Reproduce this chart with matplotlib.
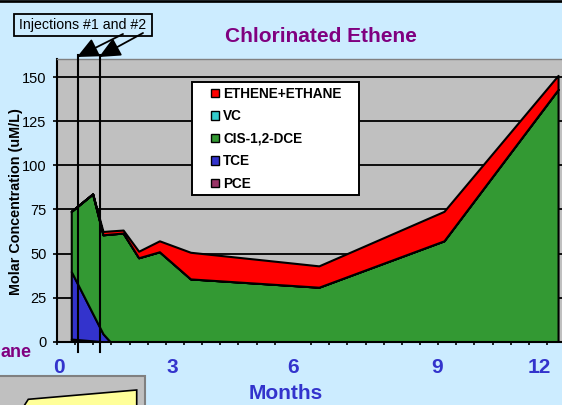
import matplotlib
matplotlib.use('Agg')
import matplotlib.pyplot as plt
from matplotlib.patches import Rectangle, Polygon, FancyArrowPatch
from matplotlib.lines import Line2D
import numpy as np

plt.rcParams['font.family'] = ['Liberation Sans', 'DejaVu Sans']

# ---------------- data ----------------
days = [11, 27.5, 35.5, 41, 51, 63, 79, 103, 202, 298.5, 386.5]
pce = [1.5, 0.5, 0, 0, 0, 0, 0, 0, 0, 0, 0]
tce = [38.3, 15.5, 4.5, 0, 0, 0, 0, 0, 0, 0, 0]
dce = [34.1, 67.8, 56.1, 61.0, 61.6, 47.6, 51.0, 35.6, 30.9, 57.2, 143.0]
vc = [0, 0, 0, 0, 0, 0, 0, 0, 0, 0, 0]
eth = [0, 0, 1.9, 1.8, 1.7, 3.7, 6.2, 15.1, 12.1, 16.7, 8.0]

series_names = ['ETHENE+ETHANE', 'VC', 'CIS-1,2-DCE', 'TCE', 'PCE']
legend_colors = ['#FF0000', '#33CCCC', '#339933', '#3333CC', '#993366']
stack_colors = ['#993366', '#3333CC', '#339933', '#33CCCC', '#FF0000']

month_labels = ['0', '3', '6', '9', '12']
month_label_days = [1.5, 89, 182, 293, 372]
injection_days = [16.2, 32.8]
y_ticks = [0, 25, 50, 75, 100, 125, 150]

# ---------------- layout helpers ----------------
W, H = 562, 405
def fx(x):
    return x / W
def fy(y):
    return 1 - y / H

BG = '#CCECFF'
fig = plt.figure(figsize=(W / 100, H / 100), dpi=100, facecolor=BG)

ax_left, ax_right, ax_top, ax_bot = 57, 566, 59.5, 341.7
ax = fig.add_axes([fx(ax_left), fy(ax_bot), (ax_right - ax_left) / W, (ax_bot - ax_top) / H])
ax.set_facecolor('#C0C0C0')
ax.set_xlim(0, (ax_right - ax_left) / 1.2964)
ax.set_ylim(0, 160)

ax.stackplot(days, pce, tce, dce, vc, eth, colors=stack_colors,
             edgecolor='black', linewidth=1.5, zorder=2)

ax.set_yticks(y_ticks)
ax.grid(axis='y', color='black', linewidth=1.3)
ax.set_axisbelow(True)
ax.tick_params(axis='y', length=3, width=1.2, pad=4.5, labelsize=10.5, direction='out')

ax.set_xticks(month_label_days)
ax.set_xticklabels(month_labels)
ax.tick_params(axis='x', which='major', length=0, pad=12, labelsize=15, labelcolor='#3333CC')
for lab in ax.get_xticklabels():
    lab.set_fontweight('bold')
ax.set_xticks(np.arange(0, 393, 14), minor=True)
ax.tick_params(axis='x', which='minor', length=2.5, width=1.2, direction='out', color='black')

for s in ['left', 'bottom']:
    ax.spines[s].set_color('black')
    ax.spines[s].set_linewidth(1.5)
ax.spines['top'].set_color('#808080')
ax.spines['top'].set_linewidth(1.0)
ax.spines['right'].set_visible(False)

ax.set_ylabel('Molar Concentration (uM/L)', fontsize=10.4, fontweight='bold')
ax.yaxis.set_label_coords(-0.0668, 0.495)

ax.set_xlabel('Months', fontsize=15, fontweight='bold', color='#3333CC')
ax.xaxis.set_label_coords((286 - ax_left) / (ax_right - ax_left), (ax_bot - 384) / (ax_bot - ax_top))

# injection lines
for d in injection_days:
    ax.plot([d, d], [-5.9, 162.5], color='black', linewidth=1.5, clip_on=False, zorder=4)

# title
fig.text(fx(321), fy(42), 'Chlorinated Ethene', ha='center', va='baseline',
         fontsize=15, fontweight='bold', color='#800080')

# top border line
fig.add_artist(Line2D([0, 1], [fy(1.3), fy(1.3)], transform=fig.transFigure,
                      color='black', linewidth=1.95))

# injection annotation box and arrows
fig.add_artist(Rectangle((fx(14.3), fy(36)), (151.7 - 14.3) / W, 22 / H,
                         transform=fig.transFigure, facecolor=BG, edgecolor='black', linewidth=1.3))
fig.text(fx(83), fy(25), 'Injections #1 and #2', ha='center', va='center', fontsize=10.2)
for (x0, y0), (x1, y1) in [((123, 34), (77, 57)), ((143, 33), (99, 57))]:
    arr = FancyArrowPatch((fx(x0), fy(y0)), (fx(x1), fy(y1)), transform=fig.transFigure,
                          arrowstyle='-|>,head_length=13,head_width=6', mutation_scale=1,
                          shrinkA=0, shrinkB=0, facecolor='black', edgecolor='black',
                          linewidth=1.3, zorder=3)
    fig.add_artist(arr)

# legend (manual, Excel style)
fig.add_artist(Rectangle((fx(192.3), fy(195)), (359.3 - 192.3) / W, (195 - 81.7) / H,
                         transform=fig.transFigure, facecolor='white', edgecolor='black',
                         linewidth=1.4, zorder=5))
for i, (name, col) in enumerate(zip(series_names, legend_colors)):
    yc = 93 + 22.5 * i
    fig.add_artist(Rectangle((fx(210.7), fy(yc + 4.2)), 8.3 / W, 8.4 / H,
                             transform=fig.transFigure, facecolor=col, edgecolor='black',
                             linewidth=1.0, zorder=6))
    fig.text(fx(223.3), fy(yc + 4.7), name, ha='left', va='baseline', fontsize=9.8,
             fontweight='bold', zorder=6)

# fragments of neighbouring graphics
fig.text(fx(0.5), fy(357), 'ane', ha='left', va='baseline', fontsize=13,
         fontweight='bold', color='#800080')
fig.add_artist(Rectangle((fx(-3), fy(408)), 148 / W, 32 / H, transform=fig.transFigure,
                         facecolor='#C0C0C0', edgecolor='#808080', linewidth=1.5))
fig.add_artist(Polygon([(fx(22.7), fy(408)), (fx(28.3), fy(399.3)), (fx(136.7), fy(390)),
                        (fx(136.7), fy(408))], closed=True, transform=fig.transFigure,
                       facecolor='#FFFF99', edgecolor='black', linewidth=1.2))

fig.savefig('out.png', dpi=100, facecolor=fig.get_facecolor())
